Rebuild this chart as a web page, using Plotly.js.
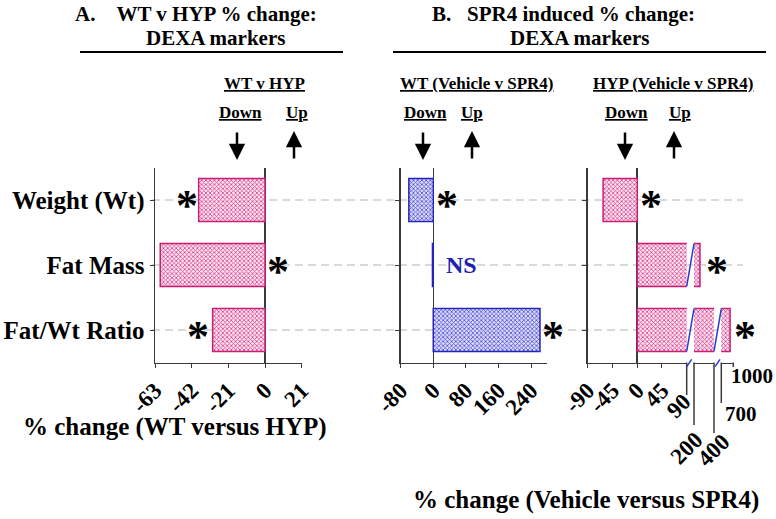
<!DOCTYPE html>
<html><head><meta charset="utf-8">
<script src="https://cdn.plot.ly/plotly-3.0.1.min.js"></script>
<style>html,body{margin:0;padding:0;background:#fff}#chart{width:776px;height:519px}</style>
</head><body><div id="chart"></div>
<script>
// ---- data ----
const categories = ['Weight (Wt)', 'Fat Mass', 'Fat/Wt Ratio'];
const wtVsHyp = [-38, -60, -30];
const wtVehicleVsSpr4 = [-60, -2, 262];
const hypVehicleVsSpr4 = [-62, 260, 920];
const ticksA = [-63, -42, -21, 0, 21];
const ticksB = [-80, 0, 80, 160, 240];
const ticksC = [-90, -45, 0, 45];
const breakTicksC = [90, 200, 400, 700, 1000];
const sigA = ['*', '*', '*'];
const sigB = ['*', 'NS', '*'];
const sigC = ['*', '*', '*'];

// ---- helpers ----
const W = 776, H = 519;
const px = x => x / W;
const py = y => 1 - y / H;
const FONT = 'Liberation Serif, Times New Roman, serif';
const AX = '#3a3a3a';

const axDefs = {
  x:  {dom: [155, 301.7], range: [-63, 21]},
  x2: {dom: [400.7, 547.3], range: [-80, 280]},
  x3: {dom: [587.7, 686.7], range: [-90, 90]},
  x4: {dom: [694, 714], range: [200, 400]},
  x5: {dom: [721.3, 733.3], range: [700, 1000]}
};
function xPix(ax, v) {
  const d = axDefs[ax];
  return d.dom[0] + (v - d.range[0]) / (d.range[1] - d.range[0]) * (d.dom[1] - d.dom[0]);
}
const yDom = [py(362.5), py(167.5)];

const pink = {
  color: '#f0b0d2',
  line: {color: '#c81f74', width: 1.5},
  pattern: {shape: 'x', fgcolor: '#d83a8a', bgcolor: '#fce6f1', size: 3, solidity: 0.45}
};
const blue = {
  color: '#b8b8f0',
  line: {color: '#2424bb', width: 1.5},
  pattern: {shape: 'x', fgcolor: '#4848d6', bgcolor: '#dcdcf8', size: 3, solidity: 0.45}
};

function bar(vals, xa, ya, marker) {
  return {type: 'bar', orientation: 'h', y: categories, x: vals, xaxis: xa, yaxis: ya,
          width: 0.66, marker: marker, hoverinfo: 'skip', showlegend: false};
}
const traces = [
  bar(wtVsHyp, 'x', 'y', pink),
  bar(wtVehicleVsSpr4, 'x2', 'y2', blue),
  bar(hypVehicleVsSpr4, 'x3', 'y3', pink),
  bar(hypVehicleVsSpr4, 'x4', 'y3', pink),
  bar(hypVehicleVsSpr4, 'x5', 'y3', pink)
];

const tickFont = {family: FONT, size: 23, color: '#000', weight: 'bold'};
function xAxis(name, tickvals, anchor, extra) {
  const d = axDefs[name];
  return Object.assign({
    domain: [px(d.dom[0]), px(d.dom[1])], range: d.range, anchor: anchor,
    tickmode: 'array', tickvals: tickvals, ticktext: tickvals.map(String),
    tickangle: -45, tickfont: tickFont, ticks: 'outside', ticklen: 4, tickcolor: AX,
    showline: true, linecolor: AX, linewidth: 1.5, showgrid: false,
    zeroline: true, zerolinecolor: AX, zerolinewidth: 1.5, fixedrange: true
  }, extra || {});
}
function yAxis(anchor, showLabels) {
  return {
    domain: yDom, anchor: anchor, type: 'category', categoryorder: 'array',
    categoryarray: categories, range: [2.5, -0.5],
    showticklabels: showLabels, tickfont: {family: FONT, size: 25, color: '#000', weight: 'bold'},
    ticks: 'outside', ticklen: 4, tickcolor: AX, showline: true, linecolor: AX,
    linewidth: 1.5, showgrid: false, zeroline: false, fixedrange: true
  };
}

const shapes = [];
// dashed guide lines across all panels
categories.forEach(c => shapes.push({type: 'line', xref: 'paper', yref: 'y', x0: px(152), x1: px(743),
  y0: c, y1: c, layer: 'below', line: {color: '#b4b4b4', width: 1.2, dash: '8px,5px'}}));
// header underlines
shapes.push({type: 'line', xref: 'paper', yref: 'paper', x0: px(80), x1: px(343), y0: py(52), y1: py(52), line: {color: '#000', width: 2}});
shapes.push({type: 'line', xref: 'paper', yref: 'paper', x0: px(393), x1: px(766), y0: py(52), y1: py(52), line: {color: '#000', width: 2}});
// leader lines for broken axis ticks
const breakAx = {90: 'x3', 200: 'x4', 400: 'x4', 700: 'x5', 1000: 'x5'};
const leaderEnd = {90: 395, 200: 425, 400: 433, 700: 403, 1000: 367};
breakTicksC.forEach(v => {
  const xp = xPix(breakAx[v], v);
  shapes.push({type: 'line', xref: 'paper', yref: 'paper', x0: px(xp), x1: px(xp), y0: py(362.5), y1: py(leaderEnd[v]),
    line: {color: AX, width: 1.5}});
});
// break slashes on bars and axis
const SL = '#2a3ad6';
function barSlash(idx, v0ax, v0, v1ax, v1) {
  shapes.push({type: 'line', xref: 'paper', yref: 'y3', x0: px(xPix(v0ax, v0)), x1: px(xPix(v1ax, v1)),
    y0: idx + 0.33, y1: idx - 0.33, line: {color: SL, width: 1.5}});
}
barSlash(1, 'x3', 90, 'x4', 200);
barSlash(2, 'x3', 90, 'x4', 200);
barSlash(2, 'x4', 400, 'x5', 700);
[[xPix('x3', 90), 0], [xPix('x4', 400), 1]].forEach(([xp, o]) => {
  shapes.push({type: 'line', xref: 'paper', yref: 'paper', x0: px(xp + o), x1: px(xp + o + 5),
    y0: py(366.7), y1: py(359.3), line: {color: SL, width: 1.5}});
});

const ann = [];
function txt(text, x, y, size, opts) {
  ann.push(Object.assign({text: text, xref: 'paper', yref: 'paper', x: px(x), y: py(y), showarrow: false,
    xanchor: 'left', yanchor: 'middle', font: {family: FONT, size: size, color: '#000', weight: 'bold'}}, opts || {}));
}
// headers
txt('A.\u00A0\u00A0\u00A0\u00A0WT v HYP % change:', 73, 14, 21);
txt('DEXA markers', 144, 38, 21);
txt('B.\u00A0\u00A0\u00A0SPR4 induced % change:', 430, 14, 21);
txt('DEXA markers', 508, 38, 21);
// sub headers
txt('<u>WT v HYP</u>', 222, 83, 17);
txt('<u>WT (Vehicle v SPR4)</u>', 398, 83, 17);
txt('<u>HYP (Vehicle v SPR4)</u>', 591, 83, 17);
[[217, 284], [402, 459], [603, 667]].forEach(([d, u]) => {
  txt('<u>Down</u>', d, 113, 17);
  txt('<u>Up</u>', u, 113, 17);
});
// arrows
[[237, 294], [423, 472], [625, 674]].forEach(([d, u]) => {
  ann.push({text: '', xref: 'paper', yref: 'paper', x: px(d), y: py(160), ax: 0, ay: -29, showarrow: true,
    arrowhead: 2, arrowsize: 1.3, arrowwidth: 2.5, arrowcolor: '#000'});
  ann.push({text: '', xref: 'paper', yref: 'paper', x: px(u), y: py(131), ax: 0, ay: 29, showarrow: true,
    arrowhead: 2, arrowsize: 1.3, arrowwidth: 2.5, arrowcolor: '#000'});
});
// significance markers
function sig(labels, xs, yaxis, color) {
  labels.forEach((s, i) => {
    const isStar = s === '*';
    ann.push({text: s, xref: 'paper', yref: yaxis, x: px(xs[i]), y: categories[i], showarrow: false,
      xanchor: 'center', yanchor: 'middle', yshift: isStar ? -6 : 0,
      font: {family: FONT, size: isStar ? 44 : 24, color: color && !isStar ? color : '#000', weight: 'bold'}});
  });
}
sig(sigA, [187, 278, 198], 'y');
sig(sigB, [447, 461, 553], 'y2', '#2020b0');
sig(sigC, [651, 717, 745], 'y3');
// broken axis tick labels
const smallTick = Object.assign({}, tickFont, {size: 21});
const breakLbl = {
  90:  {x: 678, y: 406, angle: -45},
  200: {x: 686, y: 448, angle: -45},
  400: {x: 713, y: 450, angle: -45},
  700: {x: 723, y: 414, angle: 0, left: true, small: true},
  1000: {x: 729, y: 376, angle: 0, left: true, small: true}
};
breakTicksC.forEach(v => {
  const b = breakLbl[v];
  ann.push({text: String(v), xref: 'paper', yref: 'paper', x: px(b.x), y: py(b.y), showarrow: false,
    textangle: b.angle, xanchor: b.left ? 'left' : 'center', yanchor: 'middle',
    font: b.small ? smallTick : tickFont});
});
// axis titles
txt('% change (WT versus HYP)', 175, 427, 25, {xanchor: 'center'});
txt('% change (Vehicle versus SPR4)', 586, 500, 25, {xanchor: 'center'});

const layout = {
  width: W, height: H, margin: {l: 0, r: 0, t: 0, b: 0},
  paper_bgcolor: '#fff', plot_bgcolor: 'rgba(0,0,0,0)', showlegend: false,
  font: {family: FONT, color: '#000'},
  xaxis: xAxis('x', ticksA, 'y'),
  xaxis2: xAxis('x2', ticksB, 'y2'),
  xaxis3: xAxis('x3', ticksC, 'y3'),
  xaxis4: xAxis('x4', [], 'y3', {ticks: '', zeroline: false}),
  xaxis5: xAxis('x5', [], 'y3', {ticks: '', zeroline: false}),
  yaxis: yAxis('x', true),
  yaxis2: yAxis('x2', false),
  yaxis3: yAxis('x3', false),
  shapes: shapes, annotations: ann
};
Plotly.newPlot('chart', traces, layout, {displayModeBar: false, staticPlot: true});
</script></body></html>
